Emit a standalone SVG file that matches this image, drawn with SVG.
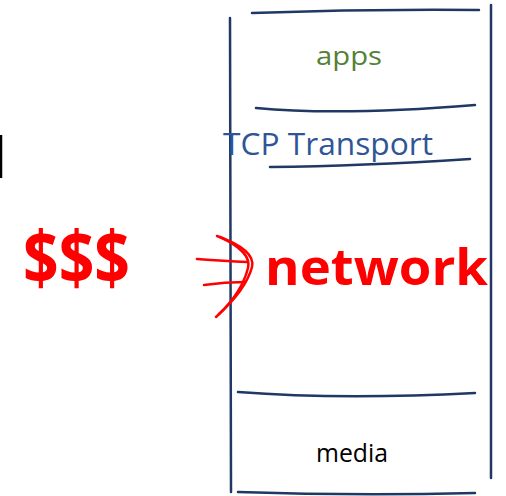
<svg xmlns="http://www.w3.org/2000/svg" width="506" height="496" viewBox="0 0 506 496">
  <style>
    .rule { fill: none; stroke: #1f3864; stroke-width: 2.5; stroke-linecap: round; }
    .ink { fill: none; stroke: #ff0000; stroke-width: 2.5; stroke-linecap: round; stroke-linejoin: round; }
    text { font-family: "Open Sans", "Liberation Sans", sans-serif; }
  </style>
  <rect width="506" height="496" fill="#ffffff"/>

  <!-- protocol stack frame -->
  <g id="stack">
    <path class="rule" d="M230 18 L231 492"/>
    <path class="rule" d="M491 5 L491 478"/>
    <path class="rule" d="M252 13 Q365 9 479 10"/>
    <path class="rule" d="M238 492 Q356 496 475 493"/>
  </g>

  <g id="apps">
    <path class="rule" d="M256 108 Q340 116 475 105"/>
    <text x="349" y="65" font-size="26" fill="#538135" text-anchor="middle" textLength="66" lengthAdjust="spacingAndGlyphs">apps</text>
  </g>

  <g id="transport">
    <path class="rule" d="M270 167 Q360 166 470 159"/>
    <text x="223" y="155" font-size="31" fill="#2f5597" textLength="210" lengthAdjust="spacingAndGlyphs">TCP Transport</text>
  </g>

  <g id="network">
    <text x="265" y="285" font-size="50" font-weight="bold" fill="#ff0000" textLength="223" lengthAdjust="spacingAndGlyphs">network</text>
  </g>

  <g id="media">
    <path class="rule" d="M238 392 Q340 400 475 393"/>
    <text x="316" y="462" font-size="25" fill="#000000" textLength="72" lengthAdjust="spacingAndGlyphs">media</text>
  </g>

  <g id="cost">
    <text x="23" y="0" font-size="62" font-weight="bold" fill="#ff0000" textLength="107" lengthAdjust="spacingAndGlyphs" transform="translate(0 284) scale(1 1.18)">$$$</text>
  </g>

  <!-- margin mark -->
  <g id="mark">
    <path d="M1 135 L1 178" stroke="#000000" stroke-width="2.5" fill="none"/>
  </g>

  <!-- arrow into the network layer -->
  <g id="connectors">
    <path class="ink" d="M197 259 Q225 261 247 262"/>
    <path class="ink" d="M204 285 Q225 282 245 282"/>
    <path class="ink" d="M217 236 Q256 250 252 267 Q246 290 216 317"/>
    <path class="ink" d="M220 237 Q252 252 248 268 Q242 292 219 314"/>
  </g>
</svg>
